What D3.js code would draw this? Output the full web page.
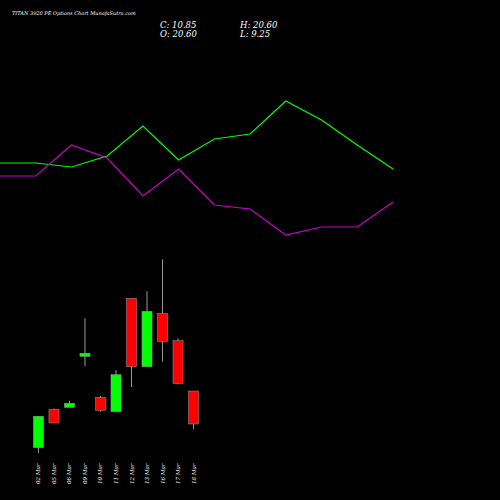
<!DOCTYPE html>
<html><head><meta charset="utf-8">
<script src="https://cdn.jsdelivr.net/npm/d3@7"></script>
<style>body{margin:0;background:#000}text{font-family:"DejaVu Serif","Liberation Serif",serif;font-style:italic;fill:#fff}</style>
</head><body><div id="chart"></div>
<script>
const dates = ["02 Mar","05 Mar","06 Mar","09 Mar","10 Mar","11 Mar","12 Mar","13 Mar","16 Mar","17 Mar","18 Mar"];
const opens = [3.85,15.19,15.78,30.85,18.74,14.48,47.99,27.78,43.55,35.46,20.60];
const highs = [13.2,15.37,17.74,42.08,19.12,26.8,47.99,50.05,59.5,36.17,20.60];
const lows = [2.28,11.15,15.78,27.9,14.48,14.48,21.78,27.78,29.26,22.58,9.25];
const closes = [13.13,11.15,16.97,31.74,14.9,25.42,27.78,44.15,35.28,22.87,10.85];
const greenLine = [337,337,333,344,374,340,361,366,399,380,355,331];
const pinkLine = [324,324,355,342,304,331,295,291,265,273,273,298];

const svg = d3.select("#chart").append("svg").attr("width",500).attr("height",500);
svg.append("rect").attr("width",500).attr("height",500).attr("fill","#000");

const x = d3.scaleBand().domain(dates).range([28,204]).padding(0.35);
const y = d3.scaleLinear().domain([9.25,20.6]).range([429.4,391]);

const g = svg.append("g");
dates.forEach((d,i)=>{
  const cx = x(d)+x.bandwidth()/2;
  const up = closes[i]>=opens[i];
  const col = up ? "#00ff00" : "#ff0000";
  g.append("line").attr("x1",cx).attr("x2",cx).attr("y1",y(highs[i])).attr("y2",y(lows[i])).attr("stroke","#999").attr("stroke-width",1);
  const top = y(Math.max(opens[i],closes[i])), bot = y(Math.min(opens[i],closes[i]));
  g.append("rect").attr("x",x(d)).attr("width",x.bandwidth()).attr("y",top).attr("height",Math.max(bot-top,1.5))
    .attr("fill",col).attr("stroke","#999").attr("stroke-width",0.5);
  svg.append("text").attr("transform",`translate(${cx+2},484) rotate(-90)`).attr("font-size",5.5).text(d);
});

const lx = d3.scaleLinear().domain([0,11]).range([0,393]);
const ly = d3.scaleLinear().domain([0,500]).range([500,0]);
const line = d3.line().x((d,i)=>lx(i)).y(d=>ly(d));
svg.append("path").datum(greenLine).attr("d",line).attr("fill","none").attr("stroke","#00ff00").attr("stroke-width",1.2);
svg.append("path").datum(pinkLine).attr("d",line).attr("fill","none").attr("stroke","#cc00cc").attr("stroke-width",1.2);

svg.append("text").attr("x",12).attr("y",15).attr("font-size",5).text("TITAN  3920  PE Options  Chart MunafaSutra.com");
svg.append("text").attr("x",160).attr("y",28).attr("font-size",8.5).text("C: 10.85");
svg.append("text").attr("x",160).attr("y",37).attr("font-size",8.5).text("O: 20.60");
svg.append("text").attr("x",240).attr("y",28).attr("font-size",8.5).text("H: 20.60");
svg.append("text").attr("x",240).attr("y",37).attr("font-size",8.5).text("L: 9.25");
</script></body></html>
